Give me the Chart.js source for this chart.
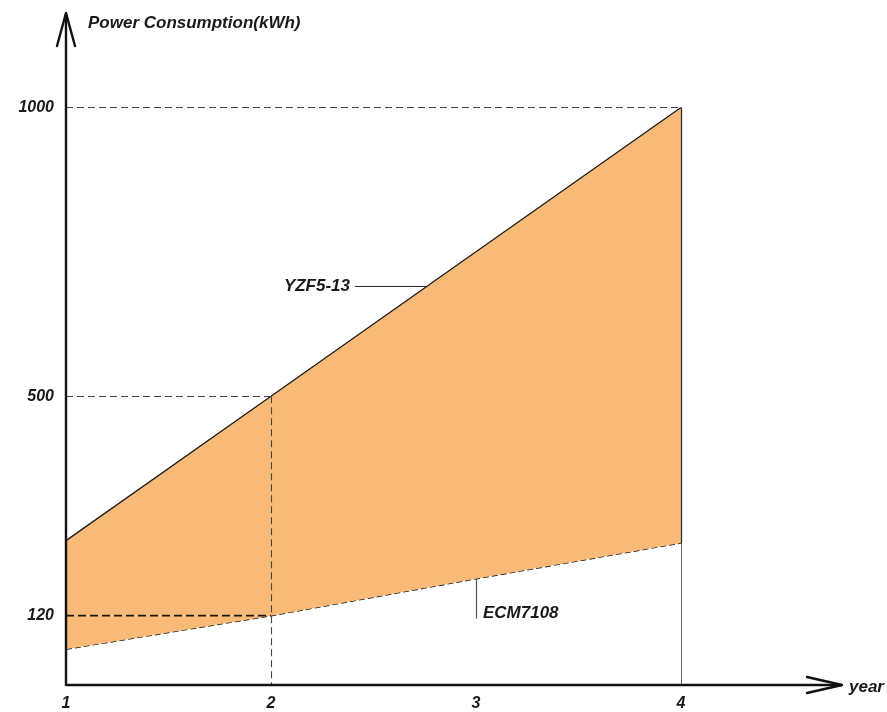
<!DOCTYPE html>
<html>
<head>
<meta charset="utf-8">
<script src="https://cdn.jsdelivr.net/npm/chart.js@4.4.1/dist/chart.umd.min.js"></script>
<style>
html,body{margin:0;padding:0;background:#fff;}
#wrap{width:887px;height:712px;position:relative;}
</style>
</head>
<body>
<div id="wrap"><canvas id="c" width="887" height="712"></canvas></div>
<script>
// ---- data ----
const years = [1, 2, 3, 4];
const yzf5_13 = [250, 500, 750, 1000];
const ecm7108 = [62, 120, 184, 246];
const yTickValues = [120, 500, 1000];
const xTickValues = [1, 2, 3, 4];
const yAxisTitle = 'Power Consumption(kWh)';
const xAxisTitle = 'year';
const seriesNames = ['YZF5-13', 'ECM7108'];

const FONT = 'italic bold 16px "Liberation Sans", Arial, sans-serif';
const FONT_L = 'italic bold 17px "Liberation Sans", Arial, sans-serif';

function interpY(xs, ys, x) {
  for (let i = 0; i < xs.length - 1; i++) {
    if (x >= xs[i] && x <= xs[i + 1]) {
      const t = (x - xs[i]) / (xs[i + 1] - xs[i]);
      return ys[i] + t * (ys[i + 1] - ys[i]);
    }
  }
  return ys[ys.length - 1];
}
function interpX(xs, ys, y) {
  for (let i = 0; i < xs.length - 1; i++) {
    if ((y - ys[i]) * (y - ys[i + 1]) <= 0) {
      const t = (y - ys[i]) / (ys[i + 1] - ys[i]);
      return xs[i] + t * (xs[i + 1] - xs[i]);
    }
  }
  return xs[xs.length - 1];
}

const decor = {
  id: 'decor',
  afterDatasetsDraw(chart) {
    const ctx = chart.ctx;
    const xs = chart.scales.x, ys = chart.scales.y;
    const X = v => xs.getPixelForValue(v);
    const Y = v => ys.getPixelForValue(v);
    const x0 = X(1), y0 = Y(0);
    ctx.save();

    function line(x1, y1, x2, y2, color, w, dash) {
      ctx.beginPath();
      ctx.strokeStyle = color;
      ctx.lineWidth = w;
      ctx.setLineDash(dash || []);
      ctx.moveTo(x1, y1);
      ctx.lineTo(x2, y2);
      ctx.stroke();
      ctx.setLineDash([]);
    }

    // guide lines
    const last = years[years.length - 1];
    const topVal = yzf5_13[yzf5_13.length - 1];
    line(x0, Math.round(Y(topVal)) + 0.5, X(last), Math.round(Y(topVal)) + 0.5, '#444', 1, [7, 4]);
    line(x0, Math.round(Y(yzf5_13[1])) + 0.5, X(years[1]), Math.round(Y(yzf5_13[1])) + 0.5, '#444', 1, [7, 4]);
    line(x0, Y(ecm7108[1]), X(years[1]), Y(ecm7108[1]), '#1a1a1a', 1.7, [8, 4]);
    line(Math.round(X(years[1])) + 0.5, Y(yzf5_13[1]), Math.round(X(years[1])) + 0.5, y0, '#444', 1.1, [7, 4]);
    line(Math.round(X(last)) + 0.5, Y(topVal), Math.round(X(last)) + 0.5, Y(ecm7108[3]), '#333', 1.3);
    line(Math.round(X(last)) + 0.5, Y(ecm7108[3]), Math.round(X(last)) + 0.5, y0, '#666', 1);

    // series annotations
    const yzfLeaderY = 690;
    const yzfHit = interpX(years, yzf5_13, yzfLeaderY);
    line(X(2.41), Y(yzfLeaderY), X(yzfHit), Y(yzfLeaderY), '#222', 1);
    const ecmLeaderX = 3.0;
    line(Math.round(X(ecmLeaderX)) + 0.5, Y(interpY(years, ecm7108, ecmLeaderX)), Math.round(X(ecmLeaderX)) + 0.5, Y(115), '#555', 1.2);

    ctx.font = FONT_L;
    ctx.fillStyle = '#1a1a1a';
    ctx.textBaseline = 'middle';
    ctx.textAlign = 'right';
    ctx.fillText(seriesNames[0], X(2.41) - 5, Y(yzfLeaderY));
    ctx.textAlign = 'left';
    ctx.fillText(seriesNames[1], X(ecmLeaderX) + 7, Y(ecm7108[1]) - 2);

    // axes
    const xEnd = xs.right + 2, yEnd = ys.top - 2;
    line(x0, y0, xEnd, y0, '#111', 2.4);
    line(x0, y0 + 1, x0, yEnd, '#111', 2.4);
    // arrows
    ctx.lineCap = 'round';
    ctx.lineJoin = 'round';
    ctx.beginPath();
    ctx.strokeStyle = '#111';
    ctx.lineWidth = 2.4;
    ctx.moveTo(x0 - 9, yEnd + 33);
    ctx.lineTo(x0, yEnd);
    ctx.lineTo(x0 + 9, yEnd + 33);
    ctx.stroke();
    ctx.beginPath();
    ctx.moveTo(xEnd - 35, y0 - 8);
    ctx.lineTo(xEnd, y0);
    ctx.lineTo(xEnd - 35, y0 + 8);
    ctx.stroke();

    // tick labels
    ctx.fillStyle = '#1a1a1a';
    ctx.font = FONT;
    ctx.textAlign = 'right';
    ctx.textBaseline = 'middle';
    yTickValues.forEach(v => ctx.fillText(String(v), x0 - 12, Y(v)));
    ctx.textAlign = 'center';
    ctx.textBaseline = 'top';
    xTickValues.forEach(v => ctx.fillText(String(v), X(v), y0 + 11));
    // axis titles
    ctx.font = FONT_L;
    ctx.textAlign = 'left';
    ctx.textBaseline = 'middle';
    ctx.fillText(xAxisTitle, xEnd + 7, y0 + 2);
    ctx.fillText(yAxisTitle, x0 + 22, 23);
    ctx.restore();
  }
};

new Chart(document.getElementById('c'), {
  type: 'line',
  data: {
    datasets: [
      {
        label: seriesNames[0],
        data: years.map((x, i) => ({ x, y: yzf5_13[i] })),
        borderColor: '#1a1a1a',
        borderWidth: 1.3,
        pointRadius: 0,
        fill: '+1',
        backgroundColor: '#F9BA77',
        tension: 0
      },
      {
        label: seriesNames[1],
        data: years.map((x, i) => ({ x, y: ecm7108[i] })),
        borderColor: '#111',
        borderWidth: 1.5,
        borderDash: [6, 3],
        pointRadius: 0,
        fill: false,
        tension: 0
      }
    ]
  },
  options: {
    responsive: false,
    animation: false,
    devicePixelRatio: 1,
    layout: { padding: { left: 66, top: 15, right: 47, bottom: 27 } },
    scales: {
      x: { type: 'linear', min: 1, max: 4.776, display: false },
      y: { type: 'linear', min: 0, max: 1160, display: false }
    },
    plugins: { legend: { display: false }, tooltip: { enabled: false }, title: { display: false } }
  },
  plugins: [decor]
});
</script>
</body>
</html>
